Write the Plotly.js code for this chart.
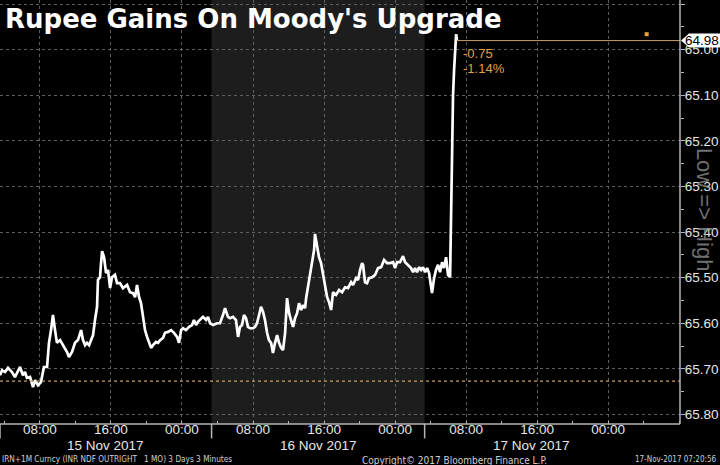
<!DOCTYPE html>
<html>
<head>
<meta charset="utf-8">
<script src="https://cdn.plot.ly/plotly-3.0.1.min.js"></script>
<style>
html,body{margin:0;padding:0;background:#000;}
#chart{width:720px;height:465px;}
</style>
</head>
<body>
<div id="chart"></div>
<script>
// INR 1M NDF outright, 3 days of 3-minute bars (sampled)
const times = [
"2017-11-15 03:30","2017-11-15 03:44","2017-11-15 04:04","2017-11-15 04:24","2017-11-15 04:51","2017-11-15 05:11","2017-11-15 05:45","2017-11-15 06:05","2017-11-15 06:19","2017-11-15 06:32",
"2017-11-15 06:53","2017-11-15 07:13","2017-11-15 07:27","2017-11-15 07:47","2017-11-15 08:07","2017-11-15 08:27","2017-11-15 08:48","2017-11-15 09:01","2017-11-15 09:15","2017-11-15 09:28",
"2017-11-15 09:42","2017-11-15 09:55","2017-11-15 10:16","2017-11-15 10:36","2017-11-15 11:03","2017-11-15 11:16","2017-11-15 11:37","2017-11-15 11:57","2017-11-15 12:17","2017-11-15 12:38",
"2017-11-15 12:51","2017-11-15 13:05","2017-11-15 13:18","2017-11-15 13:32","2017-11-15 13:45","2017-11-15 13:59","2017-11-15 14:12","2017-11-15 14:26","2017-11-15 14:32","2017-11-15 14:46",
"2017-11-15 14:53","2017-11-15 15:00","2017-11-15 15:13","2017-11-15 15:27","2017-11-15 15:40","2017-11-15 15:54","2017-11-15 16:07","2017-11-15 16:27","2017-11-15 16:41","2017-11-15 17:01",
"2017-11-15 17:21","2017-11-15 17:49","2017-11-15 18:09","2017-11-15 18:29","2017-11-15 18:43","2017-11-15 18:56","2017-11-15 19:10","2017-11-15 19:23","2017-11-15 19:37","2017-11-15 19:50",
"2017-11-15 20:04","2017-11-15 20:17","2017-11-15 20:31","2017-11-15 20:44","2017-11-15 21:05","2017-11-15 21:18","2017-11-15 21:32","2017-11-15 21:52","2017-11-15 22:05","2017-11-15 22:26",
"2017-11-15 22:46","2017-11-15 23:06","2017-11-15 23:27","2017-11-15 23:40","2017-11-15 23:54","2017-11-16 00:07","2017-11-16 00:27","2017-11-16 00:48","2017-11-16 01:08","2017-11-16 01:21",
"2017-11-16 01:35","2017-11-16 01:48","2017-11-16 02:09","2017-11-16 02:22","2017-11-16 02:43","2017-11-16 02:56","2017-11-16 03:10","2017-11-16 03:30","2017-11-16 03:57","2017-11-16 04:17",
"2017-11-16 04:37","2017-11-16 04:51","2017-11-16 05:11","2017-11-16 05:25","2017-11-16 05:45","2017-11-16 06:05","2017-11-16 06:19","2017-11-16 06:32","2017-11-16 06:46","2017-11-16 06:59",
"2017-11-16 07:13","2017-11-16 07:26","2017-11-16 07:40","2017-11-16 08:00","2017-11-16 08:14","2017-11-16 08:27","2017-11-16 08:41","2017-11-16 08:54","2017-11-16 09:08","2017-11-16 09:21",
"2017-11-16 09:35","2017-11-16 09:48","2017-11-16 10:02","2017-11-16 10:15","2017-11-16 10:29","2017-11-16 10:43","2017-11-16 10:56","2017-11-16 11:10","2017-11-16 11:23","2017-11-16 11:37",
"2017-11-16 11:50","2017-11-16 12:04","2017-11-16 12:17","2017-11-16 12:31","2017-11-16 12:44","2017-11-16 12:58","2017-11-16 13:11","2017-11-16 13:25","2017-11-16 13:38","2017-11-16 13:52",
"2017-11-16 13:59","2017-11-16 14:12","2017-11-16 14:26","2017-11-16 14:39","2017-11-16 14:53","2017-11-16 14:59","2017-11-16 15:13","2017-11-16 15:26","2017-11-16 15:40","2017-11-16 15:53",
"2017-11-16 16:07","2017-11-16 16:21","2017-11-16 16:34","2017-11-16 16:48","2017-11-16 17:01","2017-11-16 17:21","2017-11-16 17:42","2017-11-16 18:02","2017-11-16 18:22","2017-11-16 18:42",
"2017-11-16 19:03","2017-11-16 19:16","2017-11-16 19:37","2017-11-16 19:50","2017-11-16 20:04","2017-11-16 20:17","2017-11-16 20:24","2017-11-16 20:37","2017-11-16 20:51","2017-11-16 21:04",
"2017-11-16 21:25","2017-11-16 21:45","2017-11-16 22:05","2017-11-16 22:26","2017-11-16 22:46","2017-11-16 23:06","2017-11-16 23:26","2017-11-16 23:47","2017-11-17 00:00","2017-11-17 00:14",
"2017-11-17 00:34","2017-11-17 00:54","2017-11-17 01:08","2017-11-17 01:28","2017-11-17 01:48","2017-11-17 02:02","2017-11-17 02:15","2017-11-17 02:29","2017-11-17 02:42","2017-11-17 02:56",
"2017-11-17 03:09","2017-11-17 03:23","2017-11-17 03:37","2017-11-17 03:50","2017-11-17 04:04","2017-11-17 04:10","2017-11-17 04:24","2017-11-17 04:37","2017-11-17 04:51","2017-11-17 05:04",
"2017-11-17 05:18","2017-11-17 05:31","2017-11-17 05:45","2017-11-17 05:58","2017-11-17 06:12","2017-11-17 06:15","2017-11-17 06:19","2017-11-17 06:22","2017-11-17 06:26","2017-11-17 06:32",
"2017-11-17 06:39","2017-11-17 06:46","2017-11-17 06:53","2017-11-17 06:59"
];
const rate = [
65.714,65.703,65.707,65.698,65.707,65.718,65.696,65.714,65.707,65.720,
65.718,65.740,65.725,65.736,65.729,65.696,65.696,65.643,65.615,65.582,
65.615,65.643,65.637,65.648,65.663,65.674,65.663,65.643,65.637,65.615,
65.637,65.648,65.643,65.648,65.637,65.626,65.593,65.564,65.505,65.499,
65.468,65.442,65.455,65.490,65.483,65.523,65.499,65.494,65.512,65.512,
65.523,65.516,65.532,65.534,65.543,65.516,65.543,65.556,65.586,65.615,
65.630,65.643,65.654,65.648,65.641,65.643,65.637,65.632,65.621,65.619,
65.615,65.621,65.630,65.643,65.615,65.611,65.615,65.608,65.604,65.593,
65.604,65.597,65.589,65.586,65.593,65.586,65.600,65.604,65.600,65.600,
65.582,65.567,65.586,65.589,65.586,65.593,65.630,65.608,65.604,65.582,
65.589,65.608,65.611,65.611,65.608,65.600,65.582,65.564,65.575,65.593,
65.621,65.637,65.643,65.665,65.643,65.626,65.643,65.654,65.659,65.621,
65.545,65.578,65.593,65.608,65.589,65.578,65.556,65.571,65.560,65.567,
65.545,65.521,65.494,65.468,65.439,65.404,65.429,65.455,65.468,65.490,
65.521,65.543,65.554,65.571,65.532,65.538,65.527,65.532,65.521,65.523,
65.510,65.516,65.501,65.505,65.483,65.468,65.472,65.510,65.512,65.501,
65.499,65.494,65.479,65.477,65.461,65.468,65.468,65.466,65.479,65.466,
65.466,65.453,65.466,65.472,65.479,65.488,65.479,65.488,65.477,65.483,
65.477,65.488,65.479,65.490,65.516,65.534,65.501,65.483,65.472,65.488,
65.466,65.479,65.455,65.494,65.499,65.429,65.330,65.220,65.154,65.100,
65.045,65.001,64.966,64.980
];
const yTicks = [64.90,65.00,65.10,65.20,65.30,65.40,65.50,65.60,65.70,65.80];
const xTickVals = ["2017-11-15 08:00","2017-11-15 16:00","2017-11-16 00:00","2017-11-16 08:00","2017-11-16 16:00","2017-11-17 00:00","2017-11-17 08:00","2017-11-17 16:00","2017-11-18 00:00"];
const xTickText = ["08:00","16:00","00:00","08:00","16:00","00:00","08:00","16:00","00:00"];
const dateLabels = ["15 Nov 2017","16 Nov 2017","17 Nov 2017"];
const dateLabelPos = ["2017-11-15 15:20","2017-11-16 15:20","2017-11-17 15:20"];
const daySeparators = ["2017-11-15 03:30","2017-11-16 03:20","2017-11-17 03:20"];
const lastValue = 64.98;
const netChange = "-0.75";
const pctChange = "-1.14%";
const prevClose = 65.727;
const xRange = ["2017-11-15 03:30","2017-11-18 08:06"];
const yRange = [65.821, 64.891];

const lastTime = times[times.length-1];
const grid = '#5f5f5f';
const orange = '#c9a065';
const footFont = 'DejaVu Sans Condensed, Liberation Sans Narrow, Arial Narrow, sans-serif';

const trace = {
  x: times, y: rate, type: 'scatter', mode: 'lines',
  line: {color: '#ffffff', width: 2.7}, hoverinfo: 'skip'
};

const shapes = [
  {type:'rect', xref:'x', yref:'paper', x0: daySeparators[1], x1: daySeparators[2], y0:0, y1:1,
   fillcolor:'#1d1d1d', line:{width:0}, layer:'below'},
  {type:'line', xref:'paper', yref:'y', x0:0, x1:1, y0:prevClose, y1:prevClose,
   line:{color:orange, width:1.2, dash:'dot'}},
  {type:'line', xref:'x', yref:'y', x0:lastTime, x1:xRange[1], y0:lastValue, y1:lastValue,
   line:{color:orange, width:1}},
  {type:'line', xref:'paper', yref:'paper', x0:0, x1:1, y0:0, y1:0, line:{color:'#b5b5b5', width:1.5}},
  {type:'line', xref:'paper', yref:'paper', x0:1, x1:1, y0:0, y1:1, line:{color:'#b5b5b5', width:1.5}},
  {type:'path', xref:'paper', yref:'y', xsizemode:'pixel', ysizemode:'pixel', xanchor:1, yanchor:lastValue,
   path:'M 1 0 L 9 7 L 40 7 L 40 -7 L 9 -7 Z', fillcolor:'#ffffff', line:{width:0}},
  {type:'rect', xref:'paper', yref:'y', xsizemode:'pixel', ysizemode:'pixel', xanchor:0.951, yanchor:64.966,
   x0:-2, x1:2, y0:-2, y1:2, fillcolor:'#f0a030', line:{width:0}}
];
daySeparators.forEach(d => shapes.push({type:'line', xref:'x', yref:'paper', x0:d, x1:d, y0:-0.034, y1:0,
  line:{color:'#b5b5b5', width:1.5}}));

const annotations = [
  {text:"Rupee Gains On Moody's Upgrade", xref:'paper', yref:'paper', x:0, y:1, xanchor:'left', yanchor:'top',
   xshift:3, yshift:-2, showarrow:false,
   font:{family:'DejaVu Sans, sans-serif', size:26, color:'#ffffff', weight:'bold'}},
  {text:netChange, xref:'x', yref:'y', x:lastTime, y:64.985, xanchor:'left', yanchor:'top', xshift:4, yshift:-1,
   showarrow:false, font:{family:'Liberation Sans, Arial, sans-serif', size:13, color:'#e0a048'}},
  {text:pctChange, xref:'x', yref:'y', x:lastTime, y:64.985, xanchor:'left', yanchor:'top', xshift:4, yshift:-16,
   showarrow:false, font:{family:'Liberation Sans, Arial, sans-serif', size:13, color:'#e0a048'}},
  {text:lastValue.toFixed(2), xref:'paper', yref:'y', x:1, y:lastValue, xanchor:'left', yanchor:'middle',
   xshift:3, showarrow:false, font:{family:'Liberation Sans, Arial, sans-serif', size:13.5, color:'#000000'}},
  {text:'Low => High', xref:'paper', yref:'paper', x:1, y:0.505, xanchor:'center', yanchor:'middle', xshift:24,
   textangle:90, showarrow:false, font:{family:'Liberation Sans, Arial, sans-serif', size:22, color:'rgba(150,150,150,0.75)'}},
  {text:'IRN+1M Curncy (INR NDF OUTRIGHT&nbsp;&nbsp; 1 MO) 3 Days 3 Minutes', xref:'paper', yref:'paper', x:0, y:0,
   xanchor:'left', yanchor:'middle', xshift:0, yshift:-35, showarrow:false,
   font:{family:footFont, size:8.2, color:'#cfcfcf'}},
  {text:'Copyright\u00a9 2017 Bloomberg Finance L.P.', xref:'paper', yref:'paper', x:360/680, y:0,
   xanchor:'left', yanchor:'middle', yshift:-36, showarrow:false,
   font:{family:footFont, size:10, color:'#cfcfcf'}},
  {text:'17-Nov-2017 07:20:56', xref:'paper', yref:'paper', x:1, y:0,
   xanchor:'right', yanchor:'middle', xshift:39, yshift:-35, showarrow:false,
   font:{family:footFont, size:8, color:'#cfcfcf'}}
];
dateLabels.forEach((t,i) => annotations.push({text:t, xref:'x', yref:'paper', x:dateLabelPos[i], y:0,
  xanchor:'center', yanchor:'middle', yshift:-21, showarrow:false,
  font:{family:'Liberation Sans, Arial, sans-serif', size:13.5, color:'#e6e6e6'}}));

const layout = {
  width:720, height:465,
  paper_bgcolor:'#000000', plot_bgcolor:'#000000',
  margin:{l:0, r:40, t:0, b:41},
  showlegend:false,
  xaxis:{type:'date', range:xRange, tickmode:'array', tickvals:xTickVals, ticktext:xTickText,
    ticks:'', showgrid:true, gridcolor:grid, griddash:'dot', gridwidth:1, zeroline:false, showline:false,
    ticklabelstandoff:-5,
    tickfont:{family:'Liberation Sans, Arial, sans-serif', size:13.5, color:'#e6e6e6'},
    minor:{tick0:'2017-11-15 00:00', dtick:4*3600*1000, ticks:'inside', ticklen:3, tickcolor:'#b5b5b5', showgrid:false},
    fixedrange:true, automargin:false},
  yaxis:{side:'right', range:yRange, tickmode:'array', tickvals:yTicks, ticktext:yTicks.map(v=>v.toFixed(2)),
    ticks:'outside', ticklen:4, tickcolor:'#b5b5b5', tickwidth:1, ticklabelstandoff:-3,
    showgrid:true, gridcolor:grid, griddash:'dot', gridwidth:1, zeroline:false, showline:false,
    tickfont:{family:'Liberation Sans, Arial, sans-serif', size:13.5, color:'#e6e6e6'},
    minor:{tick0:64.95, dtick:0.1, ticks:'outside', ticklen:3, tickcolor:'#b5b5b5', showgrid:false},
    fixedrange:true, automargin:false},
  shapes:shapes, annotations:annotations
};

Plotly.newPlot('chart', [trace], layout, {displayModeBar:false, staticPlot:true});
</script>
</body>
</html>
